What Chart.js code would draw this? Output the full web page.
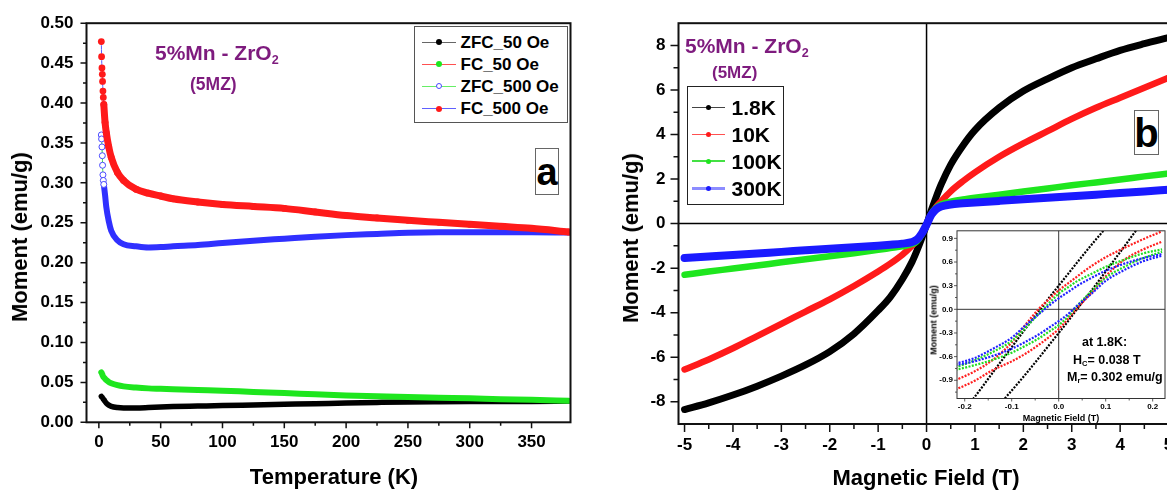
<!DOCTYPE html>
<html>
<head>
<meta charset="utf-8">
<title>5%Mn - ZrO2 (5MZ) magnetisation</title>
<script src="https://cdn.jsdelivr.net/npm/chart.js@4.4.1/dist/chart.umd.min.js"></script>
<style>
  body { margin:0; width:1167px; height:490px; overflow:hidden; background:#fff; position:relative;
         font-family:"Liberation Sans", Arial, sans-serif; font-weight:bold; }
  canvas { position:absolute; }
  .t { position:absolute; white-space:nowrap; line-height:1; color:#000; }
  .c { transform:translate(-50%,-50%); }
  .r { transform:translate(-50%,-50%) rotate(-90deg); }
  .purple { color:#7e1b7e; }
  .legend { position:absolute; background:#fff; border:1.5px solid #555; box-sizing:border-box; }
  .lline { position:absolute; height:1.5px; }
  .ldot { position:absolute; border-radius:50%; box-sizing:border-box; }
  .tag { position:absolute; border:1.5px solid #666; box-sizing:border-box; background:#fff;
         display:flex; align-items:center; justify-content:center; line-height:1; }
  sub { font-size:60%; vertical-align:-0.3em; line-height:0; }
</style>
</head>
<body>
<canvas id="chartA" width="590" height="490" style="left:0;top:0"></canvas>
<canvas id="chartB" width="600" height="490" style="left:590px;top:0"></canvas>
<canvas id="chartIn" width="265" height="205" style="left:905px;top:222px"></canvas>

<!-- panel a texts -->
<div class="t r" style="left:20px;top:237px;font-size:22px">Moment (emu/g)</div>
<div class="t c" style="left:334px;top:477px;font-size:22px">Temperature (K)</div>
<div class="t purple" style="left:155px;top:42px;font-size:21px">5%Mn - ZrO<sub>2</sub></div>
<div class="t purple" style="left:190px;top:76px;font-size:17.5px">(5MZ)</div>
<div class="tag" style="left:535px;top:148px;width:24px;height:47px;font-size:38px">a</div>
<div class="legend" style="left:414px;top:26px;width:154px;height:97px"></div>
<div id="legA"></div>

<!-- panel b texts -->
<div class="t r" style="left:631px;top:238px;font-size:22px">Moment (emu/g)</div>
<div class="t c" style="left:926px;top:478px;font-size:22px">Magnetic Field (T)</div>
<div class="t purple" style="left:685px;top:35px;font-size:21px">5%Mn - ZrO<sub>2</sub></div>
<div class="t purple" style="left:712px;top:64px;font-size:17px">(5MZ)</div>
<div class="tag" style="left:1134px;top:110px;width:25px;height:45px;font-size:40px">b</div>
<div class="legend" style="left:687px;top:86px;width:97px;height:119px;border-color:#222"></div>
<div id="legB"></div>

<!-- inset texts -->
<div class="t r" style="left:934px;top:320px;font-size:9px">Moment (emu/g)</div>
<div class="t c" style="left:1061px;top:418px;font-size:9px">Magnetic Field (T)</div>
<div class="t" style="left:1082px;top:335.5px;font-size:12.5px">at 1.8K:</div>
<div class="t" style="left:1073px;top:353.5px;font-size:12.5px">H<sub>C</sub>= 0.038 T</div>
<div class="t" style="left:1067px;top:371px;font-size:12.5px">M<sub>r</sub>= 0.302 emu/g</div>

<script>
/* panel a : M vs T */
let tempK  = [2, 2.2, 2.5, 2.8, 3, 3.3, 3.6, 4, 5, 6, 8, 10, 15, 20, 30, 40, 50, 60, 80, 100, 125, 150, 175, 200, 225, 250, 275, 300, 325, 350, 380];
let zfc50  = [0.0325, 0.032, 0.0315, 0.031, 0.0305, 0.030, 0.029, 0.0285, 0.026, 0.024, 0.0215, 0.020, 0.0185, 0.018, 0.018, 0.0185, 0.0192, 0.0197, 0.0203, 0.0209, 0.0217, 0.0225, 0.0233, 0.0242, 0.0249, 0.0255, 0.0258, 0.026, 0.0261, 0.0262, 0.0266];
let fc50   = [0.0624, 0.062, 0.061, 0.060, 0.059, 0.058, 0.057, 0.0565, 0.0545, 0.053, 0.0505, 0.049, 0.0465, 0.045, 0.0435, 0.0425, 0.042, 0.0415, 0.0405, 0.0396, 0.038, 0.0367, 0.035, 0.0337, 0.0327, 0.0317, 0.0308, 0.030, 0.029, 0.0283, 0.027];
let zfc500 = [0.360, 0.355, 0.345, 0.334, 0.322, 0.310, 0.303, 0.298, 0.285, 0.270, 0.252, 0.240, 0.228, 0.223, 0.2205, 0.219, 0.2195, 0.2205, 0.222, 0.2245, 0.2275, 0.230, 0.2325, 0.2345, 0.236, 0.2375, 0.238, 0.238, 0.238, 0.238, 0.2378];
let fc500  = [0.477, 0.458, 0.444, 0.436, 0.427, 0.415, 0.407, 0.398, 0.376, 0.363, 0.345, 0.332, 0.313, 0.303, 0.292, 0.287, 0.2835, 0.280, 0.276, 0.273, 0.2705, 0.268, 0.2635, 0.259, 0.256, 0.253, 0.2505, 0.248, 0.2455, 0.243, 0.2385];
let tempTicks   = [0, 50, 100, 150, 200, 250, 300, 350];
let momentTicksA = [0, 0.05, 0.10, 0.15, 0.20, 0.25, 0.30, 0.35, 0.40, 0.45, 0.50];

/* panel b : M vs H */
let fieldT = [-5, -4.5, -4, -3.5, -3, -2.5, -2, -1.5, -1, -0.75, -0.5, -0.3, -0.2, -0.1, 0, 0.1, 0.2, 0.3, 0.5, 0.75, 1, 1.5, 2, 2.5, 3, 3.5, 4, 4.5, 5];
let m18K  = [-8.35, -8.05, -7.7, -7.3, -6.85, -6.35, -5.75, -4.95, -3.9, -3.3, -2.5, -1.72, -1.22, -0.66, -0.05, 0.6, 1.2, 1.75, 2.65, 3.5, 4.2, 5.2, 5.95, 6.5, 7.0, 7.4, 7.78, 8.08, 8.35];
let m10K  = [-6.55, -6.1, -5.6, -5.05, -4.5, -3.95, -3.4, -2.8, -2.15, -1.8, -1.4, -1.0, -0.75, -0.45, -0.05, 0.4, 0.75, 1.0, 1.45, 1.9, 2.3, 3.0, 3.6, 4.15, 4.7, 5.2, 5.65, 6.1, 6.55];
let m100K = [-2.3, -2.15, -2.02, -1.88, -1.74, -1.6, -1.47, -1.33, -1.18, -1.1, -1.02, -0.92, -0.8, -0.5, -0.05, 0.45, 0.72, 0.86, 0.98, 1.08, 1.16, 1.3, 1.44, 1.58, 1.72, 1.85, 1.98, 2.12, 2.25];
let m300K = [-1.55, -1.48, -1.41, -1.34, -1.27, -1.2, -1.13, -1.06, -0.99, -0.95, -0.9, -0.83, -0.72, -0.45, -0.05, 0.4, 0.65, 0.77, 0.86, 0.91, 0.95, 1.02, 1.09, 1.16, 1.23, 1.3, 1.37, 1.44, 1.52];
let fieldTicks   = [-5, -4, -3, -2, -1, 0, 1, 2, 3, 4, 5];
let momentTicksB = [-8, -6, -4, -2, 0, 2, 4, 6, 8];

/* inset : low-field loops, down = sweep from +H, up = sweep from -H */
let insetField = [-0.22, -0.18, -0.14, -0.10, -0.07, -0.04, -0.02, 0, 0.02, 0.04, 0.07, 0.10, 0.14, 0.18, 0.22];
let in18Down  = [-1.40, -1.12, -0.80, -0.48, -0.24, -0.01, 0.15, 0.30, 0.45, 0.60, 0.82, 1.03, 1.30, 1.55, 1.78];
let in18Up    = [-1.78, -1.55, -1.30, -1.03, -0.82, -0.60, -0.45, -0.30, -0.15, 0.01, 0.24, 0.48, 0.80, 1.12, 1.40];
let in10Down  = [-0.90, -0.79, -0.64, -0.42, -0.19, 0.02, 0.13, 0.24, 0.33, 0.42, 0.55, 0.66, 0.78, 0.89, 0.99];
let in10Up    = [-1.02, -0.91, -0.77, -0.66, -0.56, -0.44, -0.35, -0.25, -0.12, 0.02, 0.21, 0.42, 0.63, 0.76, 0.86];
let in100Down = [-0.74, -0.65, -0.54, -0.40, -0.23, -0.04, 0.08, 0.20, 0.28, 0.36, 0.45, 0.54, 0.63, 0.71, 0.76];
let in100Up   = [-0.77, -0.71, -0.64, -0.55, -0.46, -0.36, -0.28, -0.20, -0.09, 0.05, 0.23, 0.40, 0.54, 0.65, 0.73];
let in300Down = [-0.69, -0.62, -0.50, -0.36, -0.20, -0.05, 0.05, 0.14, 0.22, 0.30, 0.40, 0.49, 0.58, 0.65, 0.70];
let in300Up   = [-0.71, -0.66, -0.59, -0.50, -0.41, -0.31, -0.23, -0.15, -0.06, 0.05, 0.20, 0.36, 0.50, 0.61, 0.68];
let insetFieldTicks  = [-0.2, -0.1, 0.0, 0.1, 0.2];
let insetMomentTicks = [-0.9, -0.6, -0.3, 0.0, 0.3, 0.6, 0.9];

const FONT = '"Liberation Sans", Arial, sans-serif';
const pts = (xs, ys) => xs.map((x, i) => ({x: x, y: ys[i]}));

// frame box, outward major/minor ticks and optional zero lines
const frameTicks = {
    id: 'frameTicks',
    beforeDraw(chart, args, o) {
        if (!o.fill) return;
        const a = chart.chartArea, ctx = chart.ctx;
        ctx.save(); ctx.fillStyle = '#fff';
        ctx.fillRect(a.left, a.top, a.right - a.left, a.bottom - a.top);
        ctx.restore();
    },
    beforeDatasetsDraw(chart, args, o) {
        if (!o.zero) return;
        const a = chart.chartArea, ctx = chart.ctx, sx = chart.scales.x, sy = chart.scales.y;
        ctx.save();
        ctx.strokeStyle = '#000'; ctx.lineWidth = o.zero;
        ctx.beginPath();
        ctx.moveTo(sx.getPixelForValue(0), a.top); ctx.lineTo(sx.getPixelForValue(0), a.bottom);
        ctx.moveTo(a.left, sy.getPixelForValue(0)); ctx.lineTo(a.right, sy.getPixelForValue(0));
        ctx.stroke();
        ctx.restore();
    },
    afterDatasetsDraw(chart, args, o) {
        const a = chart.chartArea, ctx = chart.ctx, sx = chart.scales.x, sy = chart.scales.y;
        ctx.save();
        ctx.strokeStyle = o.color || '#000';
        ctx.lineWidth = o.frame;
        ctx.strokeRect(a.left, a.top, a.right - a.left, a.bottom - a.top);
        ctx.lineWidth = o.tickWidth;
        ctx.beginPath();
        const xt = o.xTicks, yt = o.yTicks;
        for (let i = 0; i < xt.length; i++) {
            let p = sx.getPixelForValue(xt[i]);
            ctx.moveTo(p, a.bottom); ctx.lineTo(p, a.bottom + o.major);
            if (i < xt.length - 1 || o.xMinorEnd) {
                let m = sx.getPixelForValue(xt[i] + o.xMinor);
                if (m < a.right) { ctx.moveTo(m, a.bottom); ctx.lineTo(m, a.bottom + o.minor); }
            }
        }
        let m0 = sx.getPixelForValue(xt[0] - o.xMinor);
        if (m0 > a.left) { ctx.moveTo(m0, a.bottom); ctx.lineTo(m0, a.bottom + o.minor); }
        for (let i = 0; i < yt.length; i++) {
            let p = sy.getPixelForValue(yt[i]);
            ctx.moveTo(a.left, p); ctx.lineTo(a.left - o.major, p);
            let m = sy.getPixelForValue(yt[i] + o.yMinor);
            if (m > a.top) { ctx.moveTo(a.left, m); ctx.lineTo(a.left - o.minor, m); }
        }
        let n0 = sy.getPixelForValue(yt[0] - o.yMinor);
        if (n0 < a.bottom) { ctx.moveTo(a.left, n0); ctx.lineTo(a.left - o.minor, n0); }
        ctx.stroke();
        ctx.restore();
    }
};

function axis(min, max, ticks, fmt, size, pad, fit, isX) {
    return {
        type: 'linear', min: min, max: max,
        grid: {display: false, drawTicks: false},
        border: {display: false},
        afterBuildTicks: s => { s.ticks = ticks.map(v => ({value: v})); },
        afterFit: s => { if (isX) s.height = fit; else s.width = fit; },
        ticks: {
            autoSkip: false, maxRotation: 0, padding: pad, color: '#000',
            font: {family: FONT, size: size, weight: 'bold'},
            callback: v => fmt(v)
        }
    };
}

/* ---------- panel a ---------- */
function lowSeg(lineCol, bandCol, band) {
    return {
        borderColor: c => c.p1.parsed.x <= 4 ? lineCol : bandCol,
        borderWidth: c => c.p1.parsed.x <= 4 ? 1 : band
    };
}

new Chart(document.getElementById('chartA'), {
    type: 'line',
    data: {
        datasets: [
            {label: 'FC_500 Oe', data: pts(tempK, fc500), order: 0,
             borderColor: '#ff1a1a', borderWidth: 7, borderCapStyle: 'round',
             pointRadius: 3.4, pointBackgroundColor: '#ff1a1a', pointBorderWidth: 0,
             segment: lowSeg('#5a5aff', '#ff1a1a', 7), cubicInterpolationMode: 'monotone'},
            {label: 'ZFC_500 Oe', data: pts(tempK, zfc500), order: 1,
             borderColor: '#3030ff', borderWidth: 6, borderCapStyle: 'round',
             pointRadius: c => tempK[c.dataIndex] <= 4 ? 3 : 0,
             pointBackgroundColor: '#fff', pointBorderColor: '#4a4aff', pointBorderWidth: 1,
             segment: lowSeg('#33dd33', '#3030ff', 6), cubicInterpolationMode: 'monotone'},
            {label: 'FC_50 Oe', data: pts(tempK, fc50), order: 2,
             borderColor: '#1ee61e', borderWidth: 6, borderCapStyle: 'round', pointRadius: 0,
             cubicInterpolationMode: 'monotone'},
            {label: 'ZFC_50 Oe', data: pts(tempK, zfc50), order: 3,
             borderColor: '#000', borderWidth: 5.5, borderCapStyle: 'round', pointRadius: 0,
             cubicInterpolationMode: 'monotone'}
        ]
    },
    options: {
        responsive: false, animation: false,
        layout: {padding: {left: 0, right: 19.5, top: 22.3, bottom: 0}},
        plugins: {
            legend: {display: false}, tooltip: {enabled: false},
            frameTicks: {frame: 2, tickWidth: 1.5, major: 6, minor: 3.5, color: '#111',
                         xTicks: tempTicks, xMinor: 25, yTicks: momentTicksA, yMinor: 0.025}
        },
        scales: {
            x: axis(-10, 381.5, tempTicks, v => String(v), 17, 10, 67.7, true),
            y: axis(0, 0.5, momentTicksA, v => v.toFixed(2), 17, 13, 86.5, false)
        }
    },
    plugins: [frameTicks]
});

/* ---------- panel b ---------- */
new Chart(document.getElementById('chartB'), {
    type: 'line',
    data: {
        datasets: [
            {label: '300K', data: pts(fieldT, m300K), order: 0, borderColor: '#1a1aff', borderWidth: 8},
            {label: '100K', data: pts(fieldT, m100K), order: 1, borderColor: '#1ee61e', borderWidth: 6.5},
            {label: '10K',  data: pts(fieldT, m10K),  order: 2, borderColor: '#ff1a1a', borderWidth: 6.5},
            {label: '1.8K', data: pts(fieldT, m18K),  order: 3, borderColor: '#000',    borderWidth: 7}
        ].map(d => Object.assign(d, {pointRadius: 0, borderCapStyle: 'round', cubicInterpolationMode: 'monotone'}))
    },
    options: {
        responsive: false, animation: false,
        layout: {padding: {left: 0, right: 14.2, top: 23, bottom: 0}},
        plugins: {
            legend: {display: false}, tooltip: {enabled: false},
            frameTicks: {frame: 2, tickWidth: 1.5, major: 8, minor: 5, zero: 1.5, color: '#111',
                         xTicks: fieldTicks, xMinor: 0.5, yTicks: momentTicksB, yMinor: 1}
        },
        scales: {
            x: axis(-5.125, 5.15, fieldTicks, v => String(v), 17, 11, 66, true),
            y: axis(-9, 9, momentTicksB, v => String(v), 17, 13, 88.5, false)
        }
    },
    plugins: [frameTicks]
});

/* ---------- inset ---------- */
const insetSets = [
    ['300K', in300Down, in300Up, '#2020ff', 0],
    ['100K', in100Down, in100Up, '#22dd22', 2],
    ['10K',  in10Down,  in10Up,  '#ff2020', 4],
    ['1.8K', in18Down,  in18Up,  '#000',    6]
];
const insetData = [];
insetSets.forEach(s => {
    [s[1], s[2]].forEach((ys, k) => insetData.push({
        label: s[0], data: pts(insetField, ys), order: s[4] + k,
        borderColor: s[3], borderWidth: 2.2, borderDash: [2, 1.4], pointRadius: 0,
        cubicInterpolationMode: 'monotone', clip: 0
    }));
});

new Chart(document.getElementById('chartIn'), {
    type: 'line',
    data: {datasets: insetData},
    options: {
        responsive: false, animation: false,
        layout: {padding: {left: 0, right: 5, top: 6.3, bottom: 0}},
        plugins: {
            legend: {display: false}, tooltip: {enabled: false},
            frameTicks: {fill: true, frame: 1, tickWidth: 0.8, major: 3, minor: 2, zero: 0.8, color: '#333',
                         xTicks: insetFieldTicks, xMinor: 0.05, xMinorEnd: true,
                         yTicks: insetMomentTicks, yMinor: 0.15}
        },
        scales: {
            x: axis(-0.2164, 0.2262, insetFieldTicks, v => v.toFixed(1), 8, 3, 28.5, true),
            y: axis(-1.131, 0.996, insetMomentTicks, v => v.toFixed(1), 8, 4, 52, false)
        }
    },
    plugins: [frameTicks]
});

/* ---------- HTML legends ---------- */
function legend(el, rows, x0, x1, dotX, textX, size, dot) {
    let html = '';
    rows.forEach(r => {
        html += '<div class="lline" style="left:' + x0 + 'px;width:' + (x1 - x0) + 'px;top:' + (r.y - r.lw / 2) +
                'px;height:' + r.lw + 'px;background:' + r.line + '"></div>';
        html += '<div class="ldot" style="left:' + (dotX - dot / 2) + 'px;top:' + (r.y - dot / 2) + 'px;width:' + dot +
                'px;height:' + dot + 'px;' + (r.hollow ? 'border:1px solid ' + r.dot + ';background:#fff' : 'background:' + r.dot) + '"></div>';
        html += '<div class="t" style="left:' + textX + 'px;top:' + (r.y - size * 0.49) + 'px;font-size:' + size + 'px">' + r.text + '</div>';
    });
    document.getElementById(el).innerHTML = html;
}
legend('legA', [
    {text: 'ZFC_50 Oe',  y: 42.3,  line: '#666',    dot: '#000',    lw: 1.3},
    {text: 'FC_50 Oe',   y: 64.3,  line: '#ff5050', dot: '#1ee61e', lw: 1.3},
    {text: 'ZFC_500 Oe', y: 86.3,  line: '#66ee66', dot: '#4a4aff', lw: 1.3, hollow: true},
    {text: 'FC_500 Oe',  y: 108.7, line: '#6060ff', dot: '#ff1a1a', lw: 1.3}
], 422, 456, 439, 460.5, 17, 6);
legend('legB', [
    {text: '1.8K', y: 107.7, line: '#444',    dot: '#000',    lw: 1.3},
    {text: '10K',  y: 134.3, line: '#ff5050', dot: '#ff1a1a', lw: 1.3},
    {text: '100K', y: 161,   line: '#44e044', dot: '#1ee61e', lw: 1.3},
    {text: '300K', y: 188.3, line: '#8c8cff', dot: '#1a1aff', lw: 3}
], 692, 725, 708.3, 731.5, 21, 5);
</script>
</body>
</html>
